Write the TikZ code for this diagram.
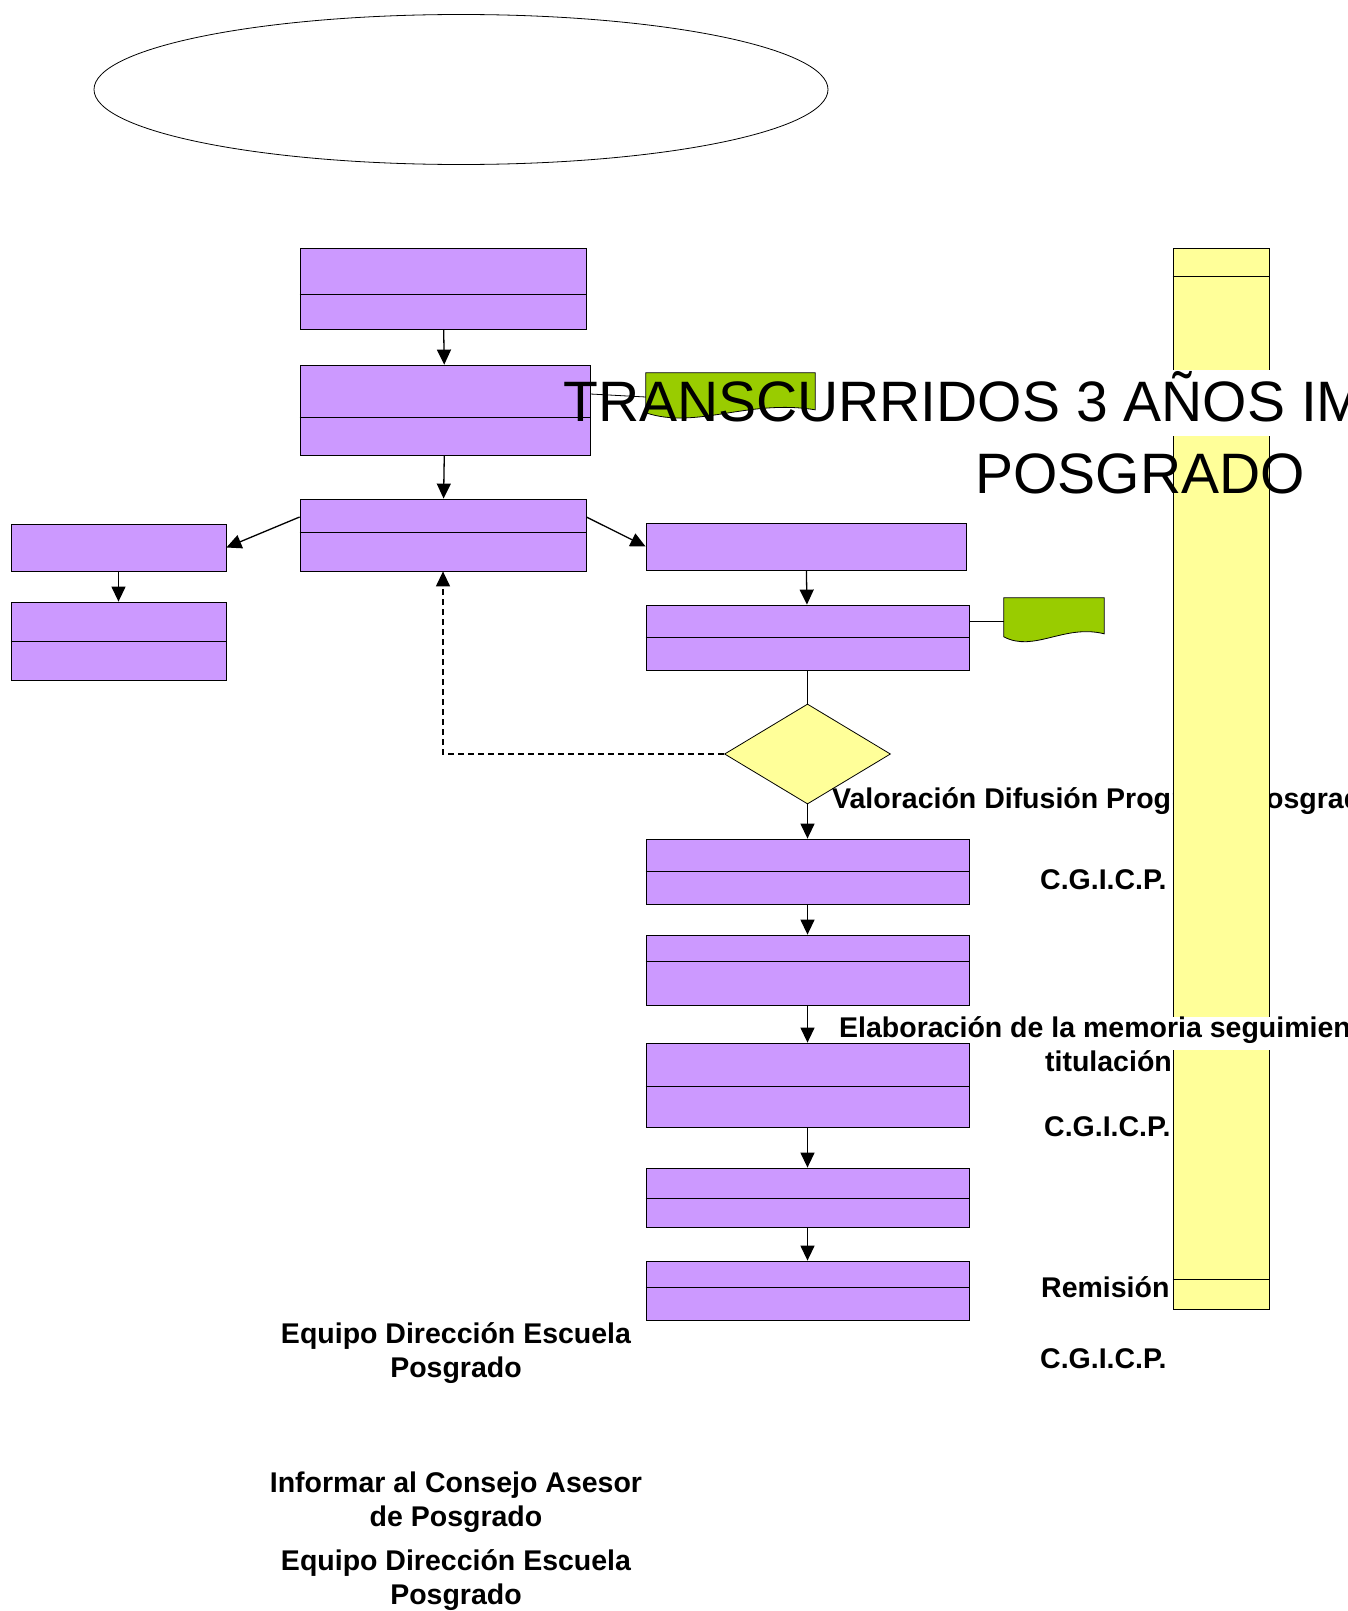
\documentclass[tikz,border=0pt]{standalone}
\usepackage{fontspec}
\setmainfont{Liberation Sans}
\usetikzlibrary{shapes.geometric,arrows.meta}

\definecolor{stepfill}{HTML}{CC99FF}
\definecolor{lanefill}{HTML}{FFFF99}
\definecolor{docfill}{HTML}{99CC00}

\begin{document}
\begin{tikzpicture}[x=1pt, y=-1pt,
  activity/.style = {rectangle, draw, line width=0.8pt, fill=stepfill, inner sep=0pt},
  decision/.style = {diamond, draw, line width=0.8pt, fill=lanefill, inner sep=0pt},
  paper/.style = {draw, line width=0.8pt, fill=docfill},
  caption/.style = {font=\fontsize{28.5pt}{34pt}\selectfont\bfseries, inner sep=0pt},
  flow/.style = {line width=1.3pt, -{Triangle[length=15pt, width=14pt]}}]
  \useasboundingbox (0, 0) rectangle (1348, 1611);

  % Heading.
  \node at (461, 89.5) [ellipse, draw, line width=0.8pt, minimum width=734pt, minimum height=150pt, name=Heading] {};

  % Steps.
  \node at (443, 288.5) [activity, minimum width=286pt, minimum height=81pt, name=Start] {};
  \node at (445, 410) [activity, minimum width=290pt, minimum height=90pt, name=Gather] {};
  \node at (443, 535) [activity, minimum width=286pt, minimum height=72pt, name=Review] {};
  \node at (118.5, 547.5) [activity, minimum width=215pt, minimum height=47pt, name=Council] {};
  \node at (118.5, 641) [activity, minimum width=215pt, minimum height=78pt, name=CouncilInfo] {};
  \node at (806, 546.5) [activity, minimum width=320pt, minimum height=47pt, name=Assess] {};
  \node at (807.5, 637.5) [activity, minimum width=323pt, minimum height=65pt, name=Spread] {};
  \node at (807.5, 754) [decision, minimum width=166pt, minimum height=100pt, name=Check] {};
  \node at (807.5, 871.5) [activity, minimum width=323pt, minimum height=65pt, name=Value] {};
  \node at (807.5, 970) [activity, minimum width=323pt, minimum height=70pt, name=Memo] {};
  \node at (807.5, 1085) [activity, minimum width=323pt, minimum height=84pt, name=MemoDraft] {};
  \node at (807.5, 1197.5) [activity, minimum width=323pt, minimum height=59pt, name=Send] {};
  \node at (807.5, 1290.5) [activity, minimum width=323pt, minimum height=59pt, name=Close] {};

  \foreach \step/\depth in {Start/47, Gather/53, Review/34, CouncilInfo/40, Spread/33,
                            Value/33, Memo/27, Send/31, Close/27}
    \draw [line width=0.8pt] ([yshift=-\depth pt]\step.north west) -- ([yshift=-\depth pt]\step.north east);
  \draw [line width=1.6pt] ([yshift=-44pt]MemoDraft.north west) -- ([yshift=-44pt]MemoDraft.north east);

  % Flow.
  \draw [flow] (Start) to (Gather);
  \draw [flow] (Gather) to (Review);
  \draw [flow] ([yshift=18pt]Review.west) to (Council.east);
  \draw [flow] ([yshift=18pt]Review.east) to (Assess.west);
  \draw [flow] (Council) to (CouncilInfo);
  \draw [flow] (Assess) to (Spread);
  \draw [line width=1.3pt] (Spread) to (Check);
  \draw [flow] (Check) to (Value);
  \draw [flow, dashed, dash pattern=on 6pt off 4pt] (Check.west) -| (Review.south);
  \draw [flow] (Value) to (Memo);
  \draw [flow] (Memo) to (MemoDraft);
  \draw [flow] (MemoDraft) to (Send);
  \draw [flow] (Send) to (Close);

  % Captions under the lane.
  \node at (832, 808.6) [caption, anchor=base west, name=ValueText] {Valoración Difusión Programa Posgrado};
  \node at (1040, 889.7) [caption, anchor=base west, name=ValueWho] {C.G.I.C.P.};
  \node at (1172, 1071.6) [caption, anchor=base east, name=MemoTextEnd] {titulación};
  \node at (1044, 1136) [caption, anchor=base west, name=MemoWho] {C.G.I.C.P.};
  \node at (1041, 1297.6) [caption, anchor=base west, name=SendText] {Remisión};
  \node at (1040, 1368) [caption, anchor=base west, name=SendWho] {C.G.I.C.P.};
  \node at (456, 1377) [caption, anchor=base, align=center, name=ReviewWho] {Equipo Dirección Escuela\\Posgrado};
  \node at (456, 1526) [caption, anchor=base, align=center, name=CouncilText] {Informar al Consejo Asesor\\de Posgrado};
  \node at (456, 1604) [caption, anchor=base, align=center, name=CouncilWho] {Equipo Dirección Escuela\\Posgrado};

  % Lane.
  \node at (1221, 778.5) [rectangle, draw, line width=0.8pt, fill=lanefill, inner sep=0pt,
                          minimum width=96pt, minimum height=1061pt, name=Lane] {};
  \draw [line width=0.8pt] ([yshift=-29pt]Lane.north west) -- ([yshift=-29pt]Lane.north east);
  \draw [line width=0.8pt] ([yshift=30pt]Lane.south west) -- ([yshift=30pt]Lane.south east);
  \fill [white] (1172, 370) rectangle (1348, 436);
  \fill [white] (1172, 1017) rectangle (1348, 1050);

  % Documents.
  \node at (730.5, 397) [minimum width=169pt, minimum height=48pt, inner sep=0pt, name=Record] {};
  \draw [paper] (Record.north west) -- (Record.north east) -- ++(0, 37)
                .. controls +(-68, -11) and +(51, 17) .. ([yshift=-40pt]Record.north west) -- cycle;
  \draw [line width=0.8pt] ([yshift=16pt]Gather.east) to (Record.west);
  \node at (1054, 621.5) [minimum width=100pt, minimum height=47pt, inner sep=0pt, name=Leaflet] {};
  \draw [paper] (Leaflet.north west) -- (Leaflet.north east) -- ++(0, 36)
                .. controls +(-40, -10) and +(30, 16) .. ([yshift=-39pt]Leaflet.north west) -- cycle;
  \draw [line width=0.8pt] ([yshift=16pt]Spread.east) to (Leaflet.west);

  % Texts over the lane.
  \node at (563, 421) [anchor=base west, inner sep=0pt, font=\fontsize{57pt}{72pt}\selectfont, name=Lapse] {TRANSCURRIDOS 3 AÑOS IM};
  \node at (1140, 493) [anchor=base, inner sep=0pt, font=\fontsize{57pt}{72pt}\selectfont, name=LapseEnd] {POSGRADO};
  \node at (839, 1037.7) [caption, anchor=base west, name=MemoText] {Elaboración de la memoria seguimiento de la};
\end{tikzpicture}
\end{document}
